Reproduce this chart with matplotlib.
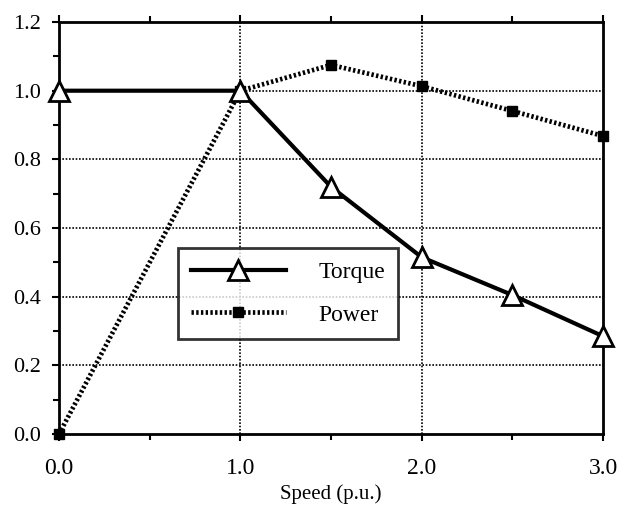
import matplotlib
matplotlib.use("Agg")
import matplotlib.pyplot as plt
from matplotlib.ticker import MultipleLocator

speed = [0.0, 1.0, 1.5, 2.0, 2.5, 3.0]
torque = [1.0, 1.0, 0.72, 0.515, 0.405, 0.285]
power = [0.0, 1.0, 1.075, 1.013, 0.941, 0.868]
xticks = [0.0, 1.0, 2.0, 3.0]
xtick_labels = ["0.0", "1.0", "2.0", "3.0"]
yticks = [0.0, 0.2, 0.4, 0.6, 0.8, 1.0, 1.2]
ytick_labels = ["0.0", "0.2", "0.4", "0.6", "0.8", "1.0", "1.2"]

plt.rcParams['font.family'] = ['Liberation Serif', 'DejaVu Serif']

fig = plt.figure(figsize=(6.25, 5.12), dpi=100)
ax = fig.add_axes([0.0944, 0.152, 0.8706, 0.805])

for y in [0.2, 0.4, 0.6, 0.8, 1.0]:
    ax.axhline(y, color='black', lw=1.2, ls=(0, (1, 1)), zorder=1)
for x in [1.0, 2.0]:
    ax.axvline(x, color='black', lw=1.2, ls=(0, (1, 1)), zorder=1)

ax.plot(speed, torque, color='black', lw=3, marker='^', markersize=14,
        markerfacecolor='white', markeredgecolor='black', markeredgewidth=2,
        label='Torque', zorder=4, clip_on=False)
ax.plot(speed, power, color='black', lw=3.4, ls=(0, (0.5, 0.5)), marker='s',
        markersize=7, markerfacecolor='black', markeredgecolor='black',
        label='Power', zorder=3, clip_on=False)

ax.set_xlim(0, 3.0)
ax.set_ylim(0, 1.2)
ax.set_xticks(xticks)
ax.set_xticklabels(xtick_labels, fontsize=17)
ax.set_yticks(yticks)
ax.set_yticklabels(ytick_labels, fontsize=16)
ax.xaxis.set_minor_locator(MultipleLocator(0.5))
ax.yaxis.set_minor_locator(MultipleLocator(0.1))
ax.tick_params(axis='both', which='both', direction='out', width=1.5, color='black')
ax.tick_params(axis='both', which='major', length=5)
ax.tick_params(axis='both', which='minor', length=4)
ax.tick_params(axis='y', which='major', pad=8)
ax.tick_params(axis='x', which='both', top=True)
ax.tick_params(axis='x', which='major', pad=12)

for s in ax.spines.values():
    s.set_linewidth(2)
    s.set_color('black')

ax.set_xlabel('Speed (p.u.)', fontsize=15, labelpad=4)

leg = ax.legend(loc='upper left', bbox_to_anchor=(0.219, 0.451),
                fontsize=17, handlelength=4.0, handletextpad=1.4,
                frameon=True, fancybox=False, borderpad=0.55, labelspacing=0.9,
                borderaxespad=0)
leg.get_frame().set_edgecolor('black')
leg.get_frame().set_linewidth(2)
leg.set_zorder(5)

fig.savefig('out.png', dpi=100)
